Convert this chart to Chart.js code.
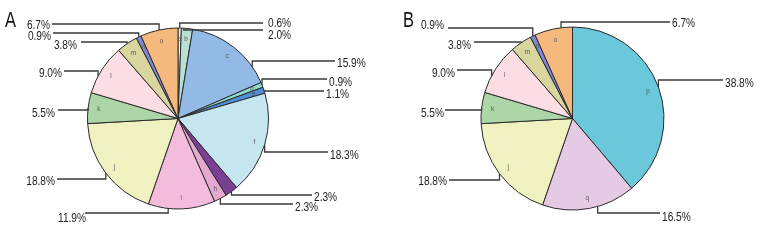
<!DOCTYPE html>
<html><head><meta charset="utf-8">
<script src="https://cdn.jsdelivr.net/npm/chart.js@4"></script>
<style>
html,body{margin:0;padding:0;background:#fff;}
#wrap{position:relative;width:780px;height:240px;overflow:hidden;}
canvas{position:absolute;top:0;}
.tag{position:absolute;font:22px 'Liberation Sans',sans-serif;color:#111;line-height:1;
  transform:scaleX(.75);transform-origin:0 0;}
</style></head><body>
<div id="wrap">
  <canvas id="ca" width="390" height="240" style="left:0"></canvas>
  <canvas id="cb" width="390" height="240" style="left:390px"></canvas>
  <div class="tag" style="left:5px;top:9px">A</div>
  <div class="tag" style="left:403px;top:9px">B</div>
</div>
<script>
// --- data (%), clockwise from 12 o'clock ---
const catA=['a','b','c','d','e','f','g','h','i','j','k','l','m','n','o'];
const valA=[0.6,2.0,15.9,0.9,1.1,18.3,2.3,2.3,11.9,18.8,5.5,9.0,3.8,0.9,6.7];
const catB=['p','q','j','k','l','m','n','o'];
const valB=[38.8,16.5,18.8,5.5,9.0,3.8,0.9,6.7];

// slice colours by category letter
const COL={a:'#f4f7f4',b:'#b9e0d2',c:'#93b9e5',d:'#8fd8cd',e:'#4f8fd8',f:'#c5e6ee',
  g:'#7b3f96',h:'#e3a9cf',i:'#f3bcdc',j:'#eff1c1',k:'#acd6a7',l:'#fcdde3',
  m:'#d8d69d',n:'#7d86d8',o:'#f5b97e',p:'#6bc7da',q:'#e4cae5'};

// leader layout (page px): [anchor frac in slice, line y, line end x, text x, text y]
const layA=[[.5,23,263,268,23],[.2,30,263,268,35],[.8,61,335,337,63],[.5,79,327,329,82],
  [.5,91,324,326,94],[.5,152,328,330,155],[.5,195,312,314,197],[.5,204,293,295,207],
  [.7,213,85,86,218],[.5,179,57,55,181],[.5,110,58,55,113],[.35,71,64,62,73],
  [.5,42,81,77,45],[.5,33,53,51,36],[.5,24,52,50,25]];
const layB=[[.5,80,723,725,83],[.41,213,660,662,217],[.5,180,449,447,181],[.5,110,445,444,113],
  [.35,70,457,455,73],[.5,42,474,471,45],[.5,28,448,444,25],[.7,22,670,672,23]];

const FONT="'Liberation Sans',sans-serif";
const SQ=.78;   // horizontal squeeze -> condensed look

function label(ctx,txt,x,y,align,size,col){
  ctx.save(); ctx.translate(x,y); ctx.scale(SQ,1);
  ctx.fillStyle=col; ctx.font=size+'px '+FONT;
  ctx.textAlign=align; ctx.textBaseline='middle';
  ctx.fillText(txt,0,0); ctx.restore();
}

function leaders(lay,dx){
  return {id:'leaders',afterDatasetsDraw(chart){
    const ctx=chart.ctx,arcs=chart.getDatasetMeta(0).data;
    const cats=chart.data.labels,vals=chart.data.datasets[0].data;
    arcs.forEach((arc,i)=>{
      const {x,y,startAngle,endAngle,outerRadius:R}=arc;
      const mid=(startAngle+endAngle)/2;
      label(ctx,cats[i],x+Math.cos(mid)*R*.88,y+Math.sin(mid)*R*.88,'center',8,'#555');

      const [f,ly,lx,tx,ty]=lay[i];
      const a=startAngle+(endAngle-startAngle)*f;
      const px=x+Math.cos(a)*R,py=y+Math.sin(a)*R;
      ctx.save();
      ctx.strokeStyle='#3a3a3a'; ctx.lineWidth=1.3;
      ctx.beginPath(); ctx.moveTo(px,py); ctx.lineTo(px,ly); ctx.lineTo(lx-dx,ly); ctx.stroke();
      ctx.restore();
      label(ctx,vals[i].toFixed(1)+'%',tx-dx,ty,(lx-dx)<x?'right':'left',13,'#222');
    });
  }};
}

function pie(id,cats,vals,lay,dx,r,pad){
  return new Chart(document.getElementById(id),{
    type:'pie',
    data:{labels:cats,datasets:[{data:vals,backgroundColor:cats.map(c=>COL[c]),
      borderColor:'#2a2a2a',borderWidth:1}]},
    options:{responsive:false,animation:false,radius:r,
      layout:{padding:pad},
      plugins:{legend:{display:false},tooltip:{enabled:false}}},
    plugins:[leaders(lay,dx)]
  });
}

pie('ca',catA,valA,layA,0,90.5,{left:87.5,right:121.5,top:28,bottom:31});
pie('cb',catB,valB,layB,390,91.5,{left:91,right:116,top:27,bottom:30});
</script>
</body></html>
